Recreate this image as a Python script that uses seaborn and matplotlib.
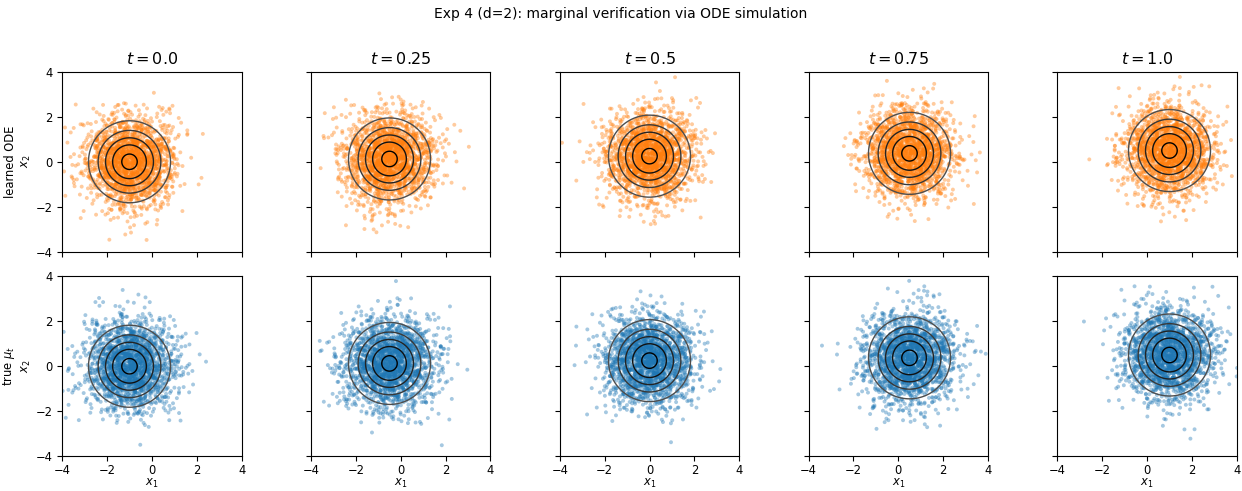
import numpy as np
import pandas as pd
import matplotlib
matplotlib.use("Agg")
import matplotlib.pyplot as plt
import seaborn as sns

# Time points and the Gaussian marginal mu_t = N(m_t, I) at each of them
t_values = [0.0, 0.25, 0.5, 0.75, 1.0]
mean_x1 = [-1.0, -0.5, 0.0, 0.5, 1.0]
mean_x2 = [0.0, 0.125, 0.25, 0.375, 0.5]
std_true = 1.0
std_learned = 0.98
n_samples = 2000
contour_levels = [0.03, 0.06, 0.09, 0.12, 0.15]
row_labels = ["learned ODE\n$x_2$", "true $\\mu_t$\n$x_2$"]
tick_values = [-4, -2, 0, 2, 4]

plt.rcParams.update({"xtick.labelsize": 8.3, "ytick.labelsize": 8.3,
                     "axes.labelsize": 8.3})

rng = np.random.default_rng(4)

fig, axes = plt.subplots(2, 5, figsize=(12.42, 4.91), dpi=100, sharex=True, sharey=True)
fig.subplots_adjust(left=62 / 1242, right=1237 / 1242, top=1 - 72 / 491,
                    bottom=1 - 456 / 491, wspace=0.383, hspace=0.139)

grid = np.linspace(-4, 4, 241)
gx, gy = np.meshgrid(grid, grid)

for j, t in enumerate(t_values):
    m = np.array([mean_x1[j], mean_x2[j]])
    dens = np.exp(-0.5 * ((gx - m[0]) ** 2 + (gy - m[1]) ** 2)) / (2 * np.pi)
    for i in range(2):
        ax = axes[i, j]
        sd = std_learned if i == 0 else std_true
        pts = m + sd * rng.standard_normal((n_samples, 2))
        df = pd.DataFrame({"x1": pts[:, 0], "x2": pts[:, 1]})
        sns.scatterplot(data=df, x="x1", y="x2", ax=ax, s=8, alpha=0.4,
                        color="C1" if i == 0 else "C0", edgecolor="none", linewidth=0)
        ax.contour(gx, gy, dens, levels=contour_levels, cmap="Greys",
                   vmin=-0.35, vmax=0.15, linewidths=1.0)
        ax.set_xlim(-4, 4)
        ax.set_ylim(-4, 4)
        ax.set_aspect("equal")
        ax.set_xticks(tick_values)
        ax.set_yticks(tick_values)
        ax.tick_params(axis="x", pad=2.5)
        ax.set_xlabel("$x_1$" if i == 1 else "", labelpad=0)
        ax.set_ylabel(row_labels[i] if j == 0 else "", labelpad=2)
        if i == 0:
            ax.set_title(f"$t = {t}$", fontsize=11.5)

fig.suptitle("Exp 4 (d=2): marginal verification via ODE simulation", fontsize=10, y=0.985)
fig.savefig("out.png", dpi=100)
